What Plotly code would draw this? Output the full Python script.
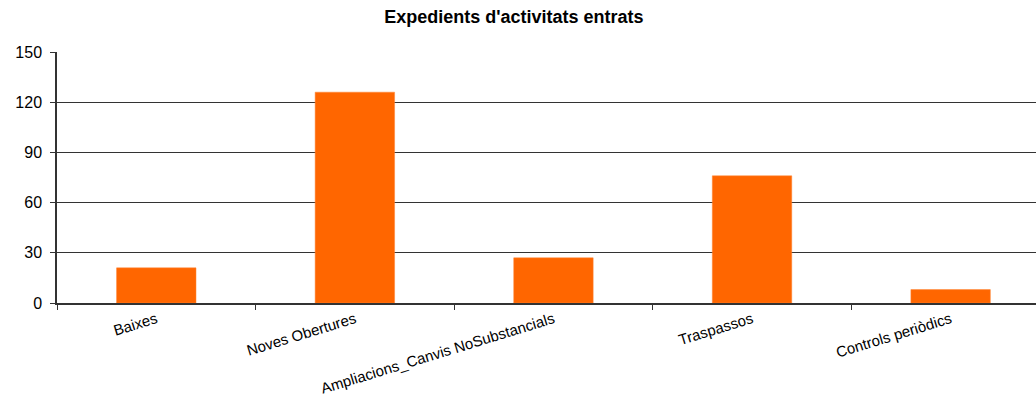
import plotly.graph_objects as go

categories = ["Baixes", "Noves Obertures", "Ampliacions_Canvis NoSubstancials",
              "Traspassos", "Controls periòdics"]
values = [21, 126, 27, 76, 8]
y_ticks = [0, 30, 60, 90, 120, 150]

fig = go.Figure(go.Bar(x=categories, y=values,
                       marker=dict(color="#FF6600", line=dict(color="#FF8533", width=0.5))))

fig.update_layout(
    width=1036, height=409,
    margin=dict(l=57, r=0, t=52, b=106),
    plot_bgcolor="white", paper_bgcolor="white",
    font=dict(family="Liberation Sans, Arial, sans-serif", color="black"),
    title=dict(text="<b>Expedients d'activitats entrats</b>",
               x=0.496, xanchor="center", y=1 - 17 / 409, yanchor="middle",
               font=dict(size=18, color="black")),
    bargap=0.6,
    showlegend=False,
)

fig.update_xaxes(range=[-0.5, 4.43], tickangle=-17, tickfont=dict(size=15),
                 ticks="outside", tickson="boundaries", ticklen=5, tickcolor="#333",
                 showline=True, linecolor="#333", linewidth=2, showgrid=False,
                 automargin=False)
fig.update_yaxes(range=[0, 150], tickvals=y_ticks, tickfont=dict(size=16),
                 ticks="outside", ticklen=5, tickcolor="#333", ticklabelstandoff=5,
                 showline=True, linecolor="#333", linewidth=1.5,
                 showgrid=True, gridcolor="#333", gridwidth=1, zeroline=False,
                 automargin=False)

# page body has a default 8px margin; drop it so the figure sits at the corner
fig.write_html("out.html", config={"displayModeBar": False},
               post_script="document.body.style.margin='0';")
